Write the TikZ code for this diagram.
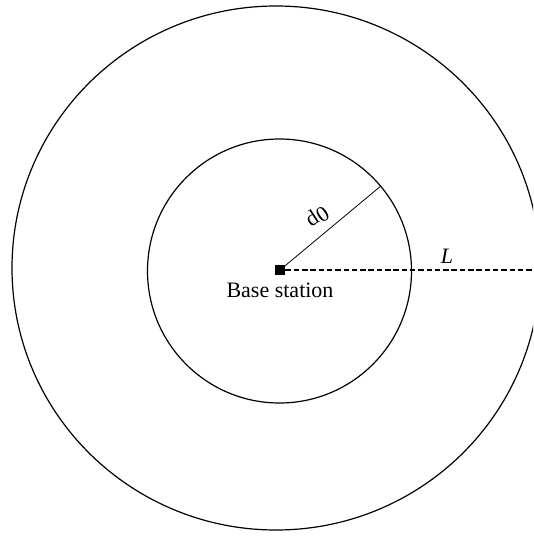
\documentclass[tikz,border=0pt]{standalone}
\usepackage{fontspec}
\setmainfont{Liberation Serif}
\begin{document}
\begin{tikzpicture}[x=1pt,y=-1pt,
  ring/.style={draw=black,line width=1.2pt},
  radius line/.style={draw=black,line width=0.8pt},
  dist line/.style={draw=black,line width=1.8pt,dash pattern=on 5.5pt off 2.8pt},
  lbl/.style={inner sep=0pt,font=\fontsize{22}{25}\selectfont}]
\useasboundingbox (0,0) rectangle (533,537);
\clip (0,0) rectangle (533,537);
% rings
\draw[ring] (276,268) ellipse[x radius=264,y radius=262];
\draw[ring] (279.5,271) circle[radius=132];
% base station
\node[fill=black,minimum size=10.5pt,inner sep=0pt] (bs) at (280,270) {};
\node[lbl,anchor=base] (bstext) at (280,297) {Base station};
% radius d0
\coordinate (r0) at (380.6,186.2);
\draw[radius line] (bs.center) -- (r0);
\node[lbl,rotate=33] (d0) at (317,216) {d\lower0.12em\hbox{0}};
% distance L
\coordinate (edge) at (533,270);
\draw[dist line] (bs.east) -- (edge);
\node[lbl,anchor=base] (L) at (447,263) {\textit{L}};
\end{tikzpicture}
\end{document}
